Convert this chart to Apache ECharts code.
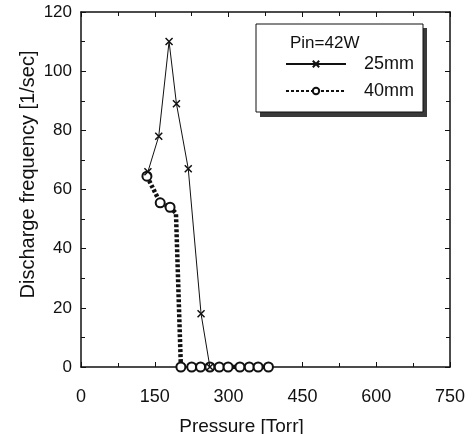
<!DOCTYPE html>
<html>
<head>
<meta charset="utf-8">
<script src="https://cdn.jsdelivr.net/npm/echarts@6/dist/echarts.min.js"></script>
<style>
html, body { margin: 0; padding: 0; background: #fff; }
#box { width: 473px; height: 434px; }
</style>
</head>
<body>
<div id="box"></div>
<script>
var dom = document.getElementById("box");
var myChart = echarts.init(dom);

// pressure [Torr], discharge frequency [1/sec]
var p25 = [136, 158, 179, 194, 218, 244, 262];
var f25 = [66, 78, 110, 89, 67, 18, 0];
var p40 = [134, 161, 181, 193, 203, 225, 243, 262, 281, 299, 323, 342, 360, 381];
var f40 = [64.5, 55.5, 54, 52, 0, 0, 0, 0, 0, 0, 0, 0, 0, 0];
var hidden40 = [3]; // corner of the dotted line, drawn without a marker
var legendNames = ['25mm', '40mm'];
var legendTitle = 'Pin=42W';

function pairs(xs, ys) {
    var out = [];
    for (var i = 0; i < xs.length; i++) out.push([xs[i], ys[i]]);
    return out;
}

var font = 'Liberation Sans, Arial, sans-serif';
var boxAxis = {
    axisLine: { show: true, onZero: false, lineStyle: { color: '#111', width: 1.5 } },
    axisTick: { show: true, inside: true, length: 5, lineStyle: { color: '#111' } },
    minorTick: { show: true, splitNumber: 2, length: 4, lineStyle: { color: '#111' } },
    splitLine: { show: false },
    axisLabel: { show: false }
};

var option = {
    backgroundColor: '#fff',
    animation: false,
    grid: { left: 81, right: 23, top: 12, bottom: 67, outerBoundsMode: 'none', containLabel: false },
    legend: {
        orient: 'vertical',
        left: 256,
        top: 24,
        z: 5,
        padding: [31, 9, 12, 29],
        itemWidth: 60,
        itemHeight: 8,
        itemGap: 9,
        backgroundColor: '#fff',
        borderColor: '#111',
        borderWidth: 1,
        textStyle: { fontFamily: font, fontSize: 18, color: '#111', padding: [0, 0, 0, 13] },
        data: legendNames
    },
    graphic: [{
        // solid drop shadow behind the legend box
        type: 'rect',
        left: 260,
        top: 28,
        z: 1,
        shape: { width: 167, height: 89 },
        style: { fill: '#3a3a3a' }
    }, {
        type: 'text',
        left: 290,
        top: 35,
        z: 100,
        style: { text: legendTitle, font: '17px ' + font, fill: '#111' }
    }],
    xAxis: [
        Object.assign({}, boxAxis, {
            type: 'value', min: 0, max: 750, interval: 150, position: 'bottom',
            axisLabel: { show: true, margin: 21, fontFamily: font, fontSize: 18, color: '#111' },
            name: 'Pressure [Torr]',
            nameLocation: 'middle',
            nameGap: 50,
            nameMoveOverlap: false,
            nameTextStyle: { fontFamily: font, fontSize: 19, color: '#111', padding: [0, 48, 0, 0] }
        }),
        Object.assign({}, boxAxis, {
            type: 'value', min: 0, max: 750, interval: 150, position: 'top'
        })
    ],
    yAxis: [
        Object.assign({}, boxAxis, {
            type: 'value', min: 0, max: 120, interval: 20, position: 'left',
            axisLabel: { show: true, margin: 9, fontFamily: font, fontSize: 17, color: '#111' },
            name: 'Discharge frequency [1/sec]',
            nameLocation: 'middle',
            nameGap: 43,
            nameMoveOverlap: false,
            nameTextStyle: { fontFamily: font, fontSize: 20, color: '#111', padding: [0, 0, 0, 30] }
        }),
        Object.assign({}, boxAxis, {
            type: 'value', min: 0, max: 120, interval: 20, position: 'right'
        })
    ],
    series: [
        {
            name: legendNames[0],
            type: 'line',
            data: pairs(p25, f25),
            symbol: 'path://M0,0L10,10M10,0L0,10',
            symbolSize: 7,
            z: 3,
            lineStyle: { color: '#111', width: 1 },
            itemStyle: { color: 'rgba(0,0,0,0)', borderColor: '#111', borderWidth: 1.5 }
        },
        {
            name: legendNames[1],
            type: 'line',
            data: pairs(p40, f40),
            symbol: 'emptyCircle',
            symbolSize: function (val, params) {
                return hidden40.indexOf(params.dataIndex) >= 0 ? 0 : 9;
            },
            z: 2,
            lineStyle: { color: '#111', width: 4.5, type: [3, 2] },
            itemStyle: { color: '#111', borderColor: '#111', borderWidth: 1.2 }
        }
    ]
};

if (option && typeof option === "object") {
    myChart.setOption(option, true);
}
</script>
</body>
</html>
